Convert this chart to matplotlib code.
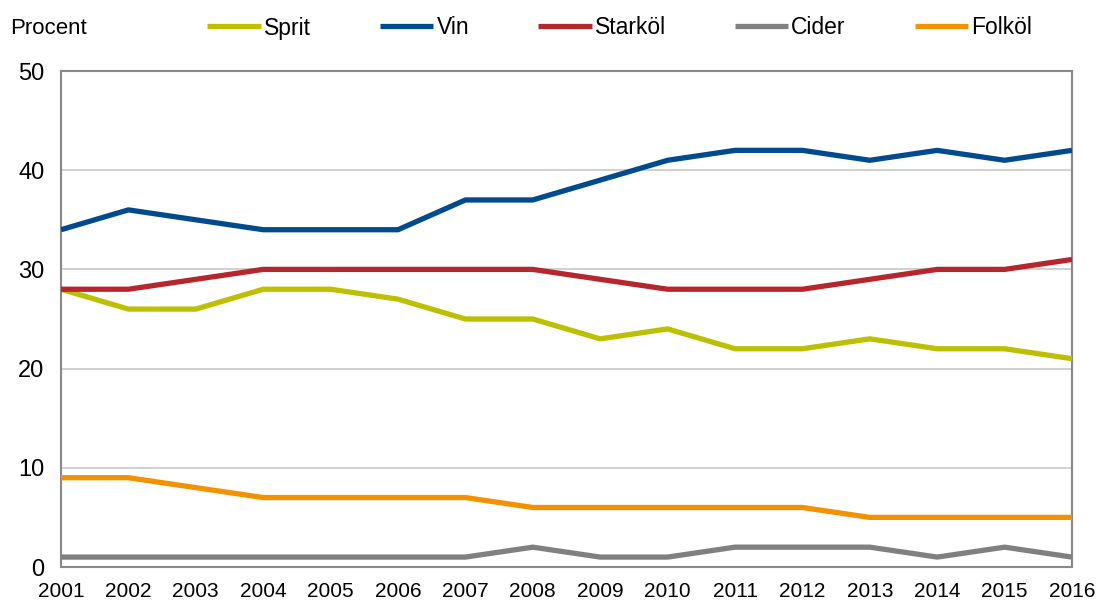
import matplotlib
matplotlib.use("Agg")
import matplotlib.pyplot as plt

years = list(range(2001, 2017))
sprit = [28, 26, 26, 28, 28, 27, 25, 25, 23, 24, 22, 22, 23, 22, 22, 21]
vin = [34, 36, 35, 34, 34, 34, 37, 37, 39, 41, 42, 42, 41, 42, 41, 42]
starkol = [28, 28, 29, 30, 30, 30, 30, 30, 29, 28, 28, 28, 29, 30, 30, 31]
cider = [1, 1, 1, 1, 1, 1, 1, 2, 1, 1, 2, 2, 2, 1, 2, 1]
folkol = [9, 9, 8, 7, 7, 7, 7, 6, 6, 6, 6, 6, 5, 5, 5, 5]
names = ["Sprit", "Vin", "Starköl", "Cider", "Folköl"]
colors = ["#BDC000", "#004B8D", "#B5272D", "#808080", "#F39200"]

plt.rcParams['font.family'] = ['Liberation Sans', 'DejaVu Sans']

fig = plt.figure(figsize=(10.97, 6.02), dpi=100)
ax = fig.add_axes([61/1097, 35/602, (1072-61)/1097, (567-71)/602])

for s, n, c in zip([sprit, vin, starkol, cider, folkol], names, colors):
    ax.plot(years, s, color=c, lw=3.8, label=n, solid_capstyle='butt', zorder=3)

ax.set_xlim(2001, 2016)
ax.set_ylim(0, 50)
ax.set_yticks([0, 10, 20, 30, 40, 50])
ax.set_xticks(years)
ax.grid(axis='y', color='#C8C8C8', lw=1.2)
ax.set_axisbelow(True)
for sp in ax.spines.values():
    sp.set_color('#888888')
    sp.set_linewidth(1.5)
ax.tick_params(axis='y', length=0, labelsize=17, pad=12)
ax.tick_params(axis='x', length=0, labelsize=15, pad=11)

fig.text(10/1097, 1 - 28/602, "Procent", fontsize=16, va='center', ha='left')
fig.legend(loc='center left', bbox_to_anchor=(207/1097, 1 - 28/602), ncol=5,
           frameon=False, fontsize=16.5, handlelength=2.35, handletextpad=0.13,
           columnspacing=3.0, borderaxespad=0, borderpad=0)

fig.savefig("out.png", dpi=100)
